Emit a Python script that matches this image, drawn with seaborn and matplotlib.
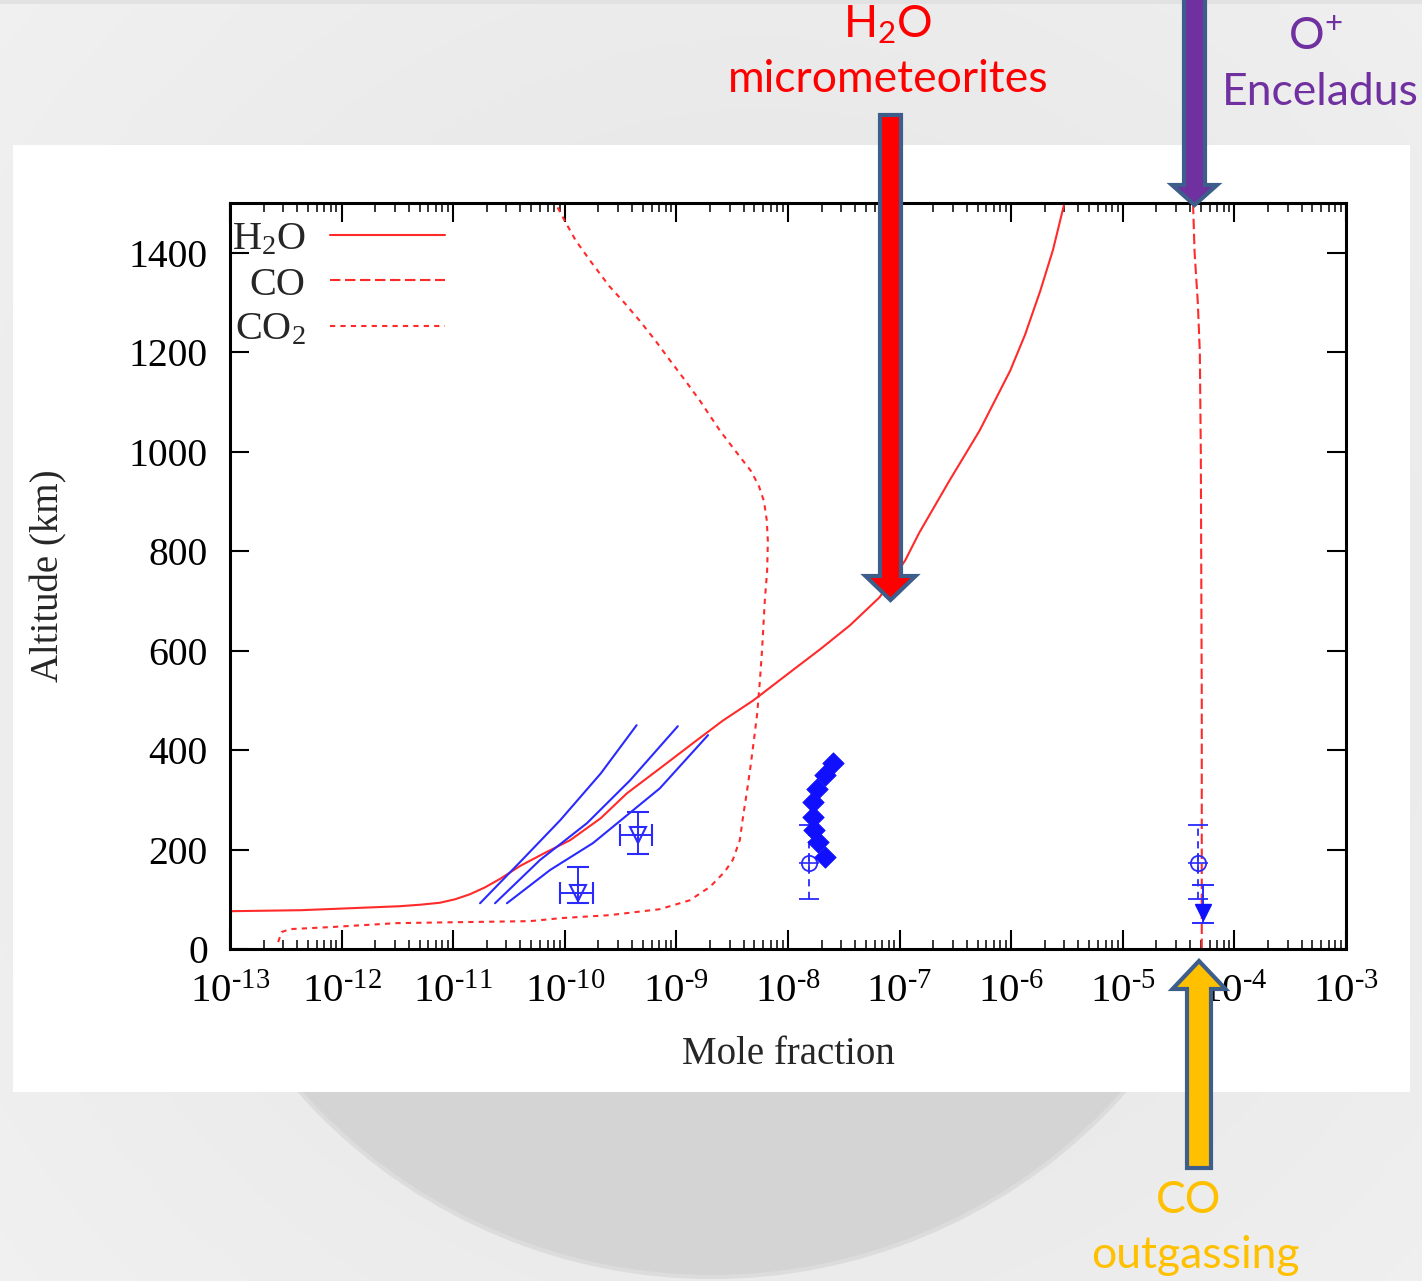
import numpy as np
import matplotlib
matplotlib.use("Agg")
import matplotlib.pyplot as plt
import seaborn as sns
from matplotlib.patches import Polygon, Circle, Rectangle
from matplotlib.ticker import LogLocator, FuncFormatter, NullFormatter

# ---------------- model profiles (mole fraction, altitude in km) ----------------
h2o_x = [1.0e-13, 4.3e-13, 1.2e-12, 3.3e-12, 5.05e-12, 7.6e-12, 1.04e-11, 1.41e-11,
         1.93e-11, 2.63e-11, 3.98e-11, 6.6e-11, 1.12e-10, 2.1e-10, 3.6e-10, 7.1e-10,
         1.41e-9, 2.6e-9, 4.9e-9, 1.05e-8, 1.95e-8, 3.6e-8, 6.6e-8, 1.12e-7, 1.5e-7,
         2.8e-7, 5.2e-7, 9.8e-7, 1.33e-6, 1.82e-6, 2.37e-6, 3.0e-6]
h2o_alt = [76, 78, 82, 86, 89, 93, 100, 110, 124, 141, 167, 193, 219, 263, 313, 363,
           414, 459, 500, 557, 603, 651, 707, 781, 837, 942, 1042, 1163, 1235, 1323,
           1406, 1500]

co_x = [5.1e-5, 5.1e-5, 5.0e-5, 4.9e-5, 4.7e-5, 4.4e-5, 4.26e-5]
co_alt = [0, 500, 1000, 1200, 1300, 1400, 1500]

co2_x = [2.7e-13, 2.9e-13, 3.45e-13, 7.9e-13, 3.1e-12, 1.15e-11, 4.9e-11, 9.1e-11,
         2.5e-10, 7.1e-10, 1.32e-9, 2.0e-9, 2.7e-9, 3.2e-9, 3.7e-9, 3.95e-9, 4.3e-9,
         4.6e-9, 4.95e-9, 5.3e-9, 5.6e-9, 5.85e-9, 6.2e-9, 6.5e-9, 6.6e-9, 6.45e-9,
         6.1e-9, 5.5e-9, 4.7e-9, 3.7e-9, 2.46e-9, 1.63e-9, 1.2e-9, 8.8e-10, 6.4e-10,
         4.7e-10, 3.4e-10, 2.5e-10, 1.7e-10, 1.25e-10, 1.0e-10, 8.2e-11]
co2_alt = [14, 34, 40, 44, 52, 54, 56, 62, 68, 80, 98, 125, 155, 179, 219, 265, 319,
           365, 420, 474, 540, 600, 701, 760, 820, 862, 900, 930, 960, 990, 1042,
           1102, 1143, 1183, 1225, 1263, 1300, 1333, 1383, 1425, 1464, 1500]

# ---------------- observational fits (blue lines) ----------------
fit1_x = [1.74e-11, 3.98e-11, 9.1e-11, 2.1e-10, 4.4e-10]
fit1_alt = [92, 175, 259, 353, 450]
fit2_x = [2.37e-11, 6.0e-11, 1.58e-10, 3.84e-10, 1.03e-9]
fit2_alt = [92, 179, 253, 339, 448]
fit3_x = [3.03e-11, 7.4e-11, 1.79e-10, 7.1e-10, 1.92e-9]
fit3_alt = [92, 159, 213, 323, 430]

# ---------------- observations ----------------
# open down-triangles with x/y error bars
tri_x = [1.32e-10, 4.57e-10]
tri_alt = [112, 229]
tri_xlo = [9.1e-11, 3.1e-10]
tri_xhi = [1.78e-10, 6.0e-10]
tri_alo = [92, 191]
tri_ahi = [165, 275]

# filled diamonds
diam_x = [2.53e-8, 2.15e-8, 1.82e-8, 1.67e-8, 1.67e-8, 1.71e-8, 1.86e-8, 2.15e-8]
diam_alt = [373, 349, 321, 295, 265, 239, 215, 185]

# open circles with dashed error bars
circ_x = [1.55e-8, 4.7e-5]
circ_alt = [173, 173]
circ_alo = [100, 100]
circ_ahi = [249, 249]

# filled down-triangle
ftri_x = [5.2e-5]
ftri_alt = [74]
ftri_alo = [52]
ftri_ahi = [129]

x_exponents = list(range(-13, -2))
y_ticks = [0, 200, 400, 600, 800, 1000, 1200, 1400]

# ---------------- style ----------------
sns.set_style("ticks")
plt.rcParams["font.family"] = ["Liberation Serif", "DejaVu Serif"]
plt.rcParams["mathtext.fontset"] = "custom"
plt.rcParams["mathtext.rm"] = "Liberation Serif"
plt.rcParams["mathtext.it"] = "Liberation Serif:italic"

W, H = 1422, 1281
fig = plt.figure(figsize=(W / 100, H / 100), dpi=100)

RED = "#ff2a2a"
BLUE = "#1010ff"
LBLUE = "#2a2aff"

# ---------------- slide background ----------------
bg = fig.add_axes([0, 0, 1, 1], zorder=0)
bg.set_xlim(0, W)
bg.set_ylim(H, 0)
bg.axis("off")
yy, xx = np.mgrid[0:H:3, 0:W:3]
r = np.hypot((xx - 760) / 1100, (yy - 640) / 1100)
shade = np.clip(0.885 + 0.06 * r, 0, 1)
bg.imshow(shade, cmap="gray", vmin=0, vmax=1, extent=(0, W, H, 0), aspect="auto",
          interpolation="bilinear")
bg.add_patch(Rectangle((0, 0), W, 4, fc="#e2e2e2", ec="none"))
bg.add_patch(Circle((712, 726), 551, fc="#d4d4d4", ec="#dcdcdc", lw=3))
bg.add_patch(Rectangle((13, 145), 1397, 947, fc="white", ec="none"))

# ---------------- main chart ----------------
ax = fig.add_axes([230 / W, 1 - 949 / H, 1116 / W, 746 / H], zorder=2)
ax.set_facecolor("white")

sns.lineplot(x=h2o_x, y=h2o_alt, sort=False, estimator=None, ax=ax, color=RED,
             lw=1.5, label=r"$\mathdefault{H_2O}$")
h_h2o = ax.lines[-1]
sns.lineplot(x=co_x, y=co_alt, sort=False, estimator=None, ax=ax, color=RED,
             lw=1.5, linestyle=(0, (5, 2.2)), label="CO")
h_co = ax.lines[-1]
sns.lineplot(x=co2_x, y=co2_alt, sort=False, estimator=None, ax=ax, color=RED,
             lw=1.5, linestyle=(0, (2.5, 2.5)), label=r"$\mathdefault{CO_2}$")
h_co2 = ax.lines[-1]

for fx, fa in [(fit1_x, fit1_alt), (fit2_x, fit2_alt), (fit3_x, fit3_alt)]:
    sns.lineplot(x=fx, y=fa, sort=False, estimator=None, ax=ax, color=LBLUE, lw=1.5,
                 legend=False)

ax.errorbar(tri_x, tri_alt,
            xerr=[np.subtract(tri_x, tri_xlo), np.subtract(tri_xhi, tri_x)],
            yerr=[np.subtract(tri_alt, tri_alo), np.subtract(tri_ahi, tri_alt)],
            fmt="v", ms=12, mfc="none", mec=LBLUE, mew=1.5, ecolor=LBLUE,
            elinewidth=1.4, capsize=8, capthick=1.4, zorder=4)

sns.scatterplot(x=diam_x, y=diam_alt, marker="D", s=120, color=BLUE,
                edgecolor=BLUE, linewidth=0.5, ax=ax, zorder=5, legend=False)

eb = ax.errorbar(circ_x, circ_alt,
                 yerr=[np.subtract(circ_alt, circ_alo), np.subtract(circ_ahi, circ_alt)],
                 fmt="o", ms=11, mfc="none", mec=LBLUE, mew=1.3, ecolor=LBLUE,
                 elinewidth=1.3, capsize=7, capthick=1.3, zorder=4)
eb[2][0].set_linestyle((0, (4, 3)))
ax.plot(circ_x, circ_alt, marker="+", ms=15, mew=1.2, ls="none", color=LBLUE,
        zorder=4)

ax.errorbar(ftri_x, ftri_alt,
            yerr=[np.subtract(ftri_alt, ftri_alo), np.subtract(ftri_ahi, ftri_alt)],
            fmt="v", ms=12, color=BLUE, mec=BLUE, ecolor=LBLUE, elinewidth=1.4,
            capsize=8, capthick=1.4, zorder=4)

ax.set_xscale("log")
ax.set_xlim(1e-13, 1e-3)
ax.set_ylim(0, 1500)
ax.set_xticks([10.0 ** e for e in x_exponents])
ax.xaxis.set_minor_locator(LogLocator(base=10, subs=np.arange(2, 10), numticks=20))
ax.xaxis.set_major_formatter(
    FuncFormatter(lambda v, pos: r"$10^{\text{-%d}}$" % round(-np.log10(v))))
ax.xaxis.set_minor_formatter(NullFormatter())
ax.set_yticks(y_ticks)

for s in ax.spines.values():
    s.set_linewidth(2.2)
    s.set_color("black")
ax.tick_params(axis="both", which="major", direction="in", length=13.5, width=1.5,
               top=True, right=True, colors="black")
ax.tick_params(axis="both", which="minor", direction="in", length=6.5, width=1.3,
               top=True, right=True)
ax.tick_params(axis="x", pad=18, labelsize=29.5)
ax.tick_params(axis="y", pad=16, labelsize=28.5)

ax.set_xlabel("Mole fraction", fontsize=28)
ax.set_ylabel("Altitude (km)", fontsize=28)
ax.xaxis.set_label_coords(0.5, -0.117)
ax.yaxis.set_label_coords(-0.146, 0.5)

ax.legend(handles=[h_h2o, h_co, h_co2],
          labels=[r"$\mathdefault{H_2O}$", "CO", r"$\mathdefault{CO_2}$"],
          loc="upper left", bbox_to_anchor=(-0.011, 1 - 4 / 746), markerfirst=False,
          frameon=False, fontsize=29, handlelength=2.85, handletextpad=0.6,
          labelspacing=0.2, borderaxespad=0, borderpad=0.35)

# ---------------- slide annotations ----------------
ov = fig.add_axes([0, 0, 1, 1], zorder=10)
ov.set_xlim(0, W)
ov.set_ylim(H, 0)
ov.axis("off")
ov.patch.set_visible(False)

EDGE = "#3d5d8a"


def block_arrow(cx, tail_y, tip_y, shaft_w, head_w, head_len):
    d = 1 if tip_y > tail_y else -1
    base_y = tip_y - d * head_len
    return [(cx - shaft_w / 2, tail_y), (cx + shaft_w / 2, tail_y),
            (cx + shaft_w / 2, base_y), (cx + head_w / 2, base_y), (cx, tip_y),
            (cx - head_w / 2, base_y), (cx - shaft_w / 2, base_y)]


ov.add_patch(Polygon(block_arrow(890.5, 115, 600, 21, 50, 24), closed=True,
                     fc="#ff0000", ec=EDGE, lw=3, joinstyle="miter"))
ov.add_patch(Polygon(block_arrow(1194.5, -10, 205, 21, 45, 20), closed=True,
                     fc="#7030a0", ec=EDGE, lw=3, joinstyle="miter"))
ov.add_patch(Polygon(block_arrow(1199, 1168, 961, 24, 53, 28), closed=True,
                     fc="#ffc000", ec=EDGE, lw=3, joinstyle="miter"))

ann = dict(family=["Lato", "DejaVu Sans"], fontsize=32, ha="center", va="baseline")
ov.text(888, 37, r"$\mathdefault{H_2O}$", color="#ff0000", **ann)
ov.text(888, 92, "micrometeorites", color="#ff0000", **ann)
ov.text(1315, 50, r"$\mathdefault{O^{+}}$", color="#7030a0", **ann)
ov.text(1320, 105, "Enceladus", color="#7030a0", **ann)
ov.text(1189, 1213, "CO", color="#ffc000", **ann)
ov.text(1195, 1268, "outgassing", color="#ffc000", **ann)

fig.savefig("out.png", dpi=100)
